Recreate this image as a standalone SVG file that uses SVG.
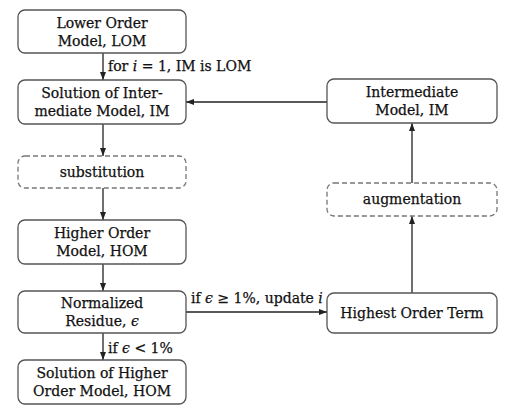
<svg xmlns="http://www.w3.org/2000/svg" width="510" height="416" viewBox="0 0 510 416">
<style>
.b{fill:#fff;stroke:#555;stroke-width:1.3}
.d{fill:#fff;stroke:#777;stroke-width:1.3;stroke-dasharray:5,3}
text{font-family:"DejaVu Serif","Liberation Serif",serif;font-size:14px;fill:#111;stroke:#111;stroke-width:0.25}
.c{text-anchor:middle}
.e{stroke:#222;stroke-width:1.3;fill:none;marker-end:url(#a)}
</style>
<defs><marker id="a" viewBox="0 0 8 6" refX="8" refY="3" markerWidth="8" markerHeight="6" markerUnits="userSpaceOnUse" orient="auto"><path d="M0,0L8,3L0,6z" fill="#222"/></marker></defs>
<rect width="510" height="416" fill="#fff"/>
<g id="edges">
<path class="e" d="M103,53V80"/>
<path class="e" d="M103,124V156"/>
<path class="e" d="M103,188V220"/>
<path class="e" d="M103,264V291"/>
<path class="e" d="M103,333V360"/>
<path class="e" d="M186,312H327"/>
<path class="e" d="M412,293V216"/>
<path class="e" d="M412,183V123"/>
<path class="e" d="M327,102H186"/>
<text x="108" y="71">for <tspan font-style="italic">i</tspan> = 1, IM is LOM</text>
<text x="108" y="353">if <tspan font-style="italic">ϵ</tspan> &lt; 1%</text>
<text x="191" y="303">if <tspan font-style="italic">ϵ</tspan> ≥ 1%, update <tspan font-style="italic">i</tspan></text>
</g>
<g id="lom"><rect class="b" x="18" y="10" width="168" height="43" rx="7"/><text class="c" x="102" y="28">Lower Order</text><text class="c" x="102" y="46">Model, LOM</text></g>
<g id="solim"><rect class="b" x="18" y="80" width="168" height="44" rx="7"/><text class="c" x="102" y="98">Solution of Inter-</text><text class="c" x="102" y="116">mediate Model, IM</text></g>
<g id="subst"><rect class="d" x="18" y="156" width="168" height="32" rx="7"/><text class="c" x="102" y="177">substitution</text></g>
<g id="hom"><rect class="b" x="18" y="220" width="168" height="44" rx="7"/><text class="c" x="102" y="238">Higher Order</text><text class="c" x="102" y="256">Model, HOM</text></g>
<g id="res"><rect class="b" x="18" y="291" width="168" height="42" rx="7"/><text class="c" x="102" y="308">Normalized</text><text class="c" x="102" y="326">Residue, <tspan font-style="italic">ϵ</tspan></text></g>
<g id="solhom"><rect class="b" x="18" y="360" width="168" height="44" rx="7"/><text class="c" x="102" y="378">Solution of Higher</text><text class="c" x="102" y="396">Order Model, HOM</text></g>
<g id="im"><rect class="b" x="327" y="79" width="170" height="44" rx="7"/><text class="c" x="412" y="97">Intermediate</text><text class="c" x="412" y="115">Model, IM</text></g>
<g id="aug"><rect class="d" x="327" y="183" width="170" height="33" rx="7"/><text class="c" x="412" y="204">augmentation</text></g>
<g id="hot"><rect class="b" x="327" y="293" width="170" height="40" rx="7"/><text class="c" x="412" y="318">Highest Order Term</text></g>
</svg>
